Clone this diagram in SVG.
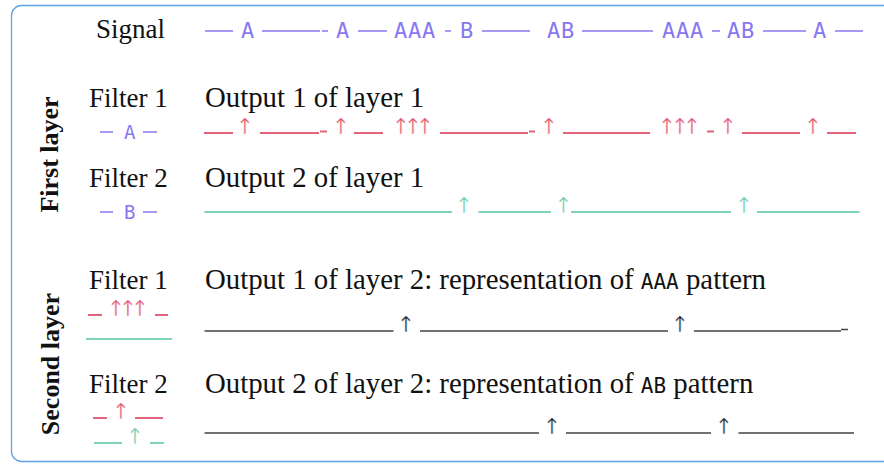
<svg xmlns="http://www.w3.org/2000/svg" width="884" height="467" viewBox="0 0 884 467">
<style>
.serif{font-family:"Liberation Serif","DejaVu Serif",serif;font-size:27px;fill:#111}
.out{font-size:28.8px}
.vert{font-family:"Liberation Serif","DejaVu Serif",serif;font-size:26px;font-weight:bold;fill:#111}
.mono{font-family:"DejaVu Sans Mono","Liberation Mono",monospace}
.sig{font-family:"DejaVu Sans Mono","Liberation Mono",monospace;font-size:22px;fill:#8878f0;letter-spacing:0.7px}
.small{font-family:"DejaVu Sans Mono","Liberation Mono",monospace;font-size:19px;fill:#8878f0}
.pl{stroke:#8878f0;stroke-width:1.6;fill:none}
.rl{stroke:#e3647a;stroke-width:1.8;fill:none}
.gl{stroke:#7fd3b6;stroke-width:1.8;fill:none}
.kl{stroke:#444;stroke-width:1.6;fill:none}
.arr{font-family:"DejaVu Sans",sans-serif;font-size:22px;text-anchor:middle;stroke:#fff;stroke-width:0.45px}
.ra{fill:#e0546c}
.ga{fill:#6fcaa9}
.ka{fill:#222}
</style>
<rect x="11.5" y="5.5" width="900" height="456" rx="10" fill="#fff" stroke="#5ea2e6" stroke-width="1.3"/>

<g id="signal">
<text class="serif" x="96" y="38">Signal</text>
<path class="pl" d="M205 31H233M262 31H320M322 31H328M358 31H387M445 31H451M482 31H530M582 31H653M712 31H720M763 31H806M835 31H863"/>
<text class="sig" x="241" y="37.5">A</text>
<text class="sig" x="336" y="37.5">A</text>
<text class="sig" x="394" y="37.5">AAA</text>
<text class="sig" x="460" y="37.5">B</text>
<text class="sig" x="547" y="37.5">AB</text>
<text class="sig" x="662" y="37.5">AAA</text>
<text class="sig" x="727" y="37.5">AB</text>
<text class="sig" x="813" y="37.5">A</text>
</g>

<g id="first-layer-label">
<text class="vert" transform="translate(58,154.5) rotate(-90)" text-anchor="middle">First layer</text>
</g>

<g id="layer1-filter1">
<text class="serif" x="89" y="107">Filter 1</text>
<path class="pl" d="M100 132H113M143 132H157"/>
<text class="small" x="124" y="138.5">A</text>
</g>

<g id="layer1-output1">
<text class="serif out" x="205" y="107">Output 1 of layer 1</text>
<path class="rl" d="M204 133H233M260 133H319M320 131.5H327M354 133H383M440 133H528M529 131.5H535M563 133H650M707 131.5H714M742 133H800M827 133H856"/>
<text class="arr ra" x="245 341 401 413 425 549 667 680 692 728 813" y="134">↑↑↑↑↑↑↑↑↑↑↑</text>
</g>

<g id="layer1-filter2">
<text class="serif" x="89" y="187">Filter 2</text>
<path class="pl" d="M100 212H113M143 212H157"/>
<text class="small" x="124" y="218.5">B</text>
</g>

<g id="layer1-output2">
<text class="serif out" x="205" y="187">Output 2 of layer 1</text>
<path class="gl" d="M204.5 212H452M478.5 212H551M571 212H731M757 212H859.5"/>
<text class="arr ga" x="464 563.5 744" y="213">↑↑↑</text>
</g>

<g id="second-layer-label">
<text class="vert" transform="translate(59,364) rotate(-90)" text-anchor="middle">Second layer</text>
</g>

<g id="layer2-filter1">
<text class="serif" x="89" y="289">Filter 1</text>
<path class="rl" d="M88 315H102M155 315H168"/>
<text class="arr ra" x="116 128 140" y="316">↑↑↑</text>
<path class="gl" d="M86 339H172"/>
</g>

<g id="layer2-output1">
<text class="serif out" x="205" y="289">Output 1 of layer 2: representation of <tspan class="mono" font-size="21">AAA</tspan> pattern</text>
<path class="kl" d="M204.5 331H393.5M420 331H668M694 331H841M841 329.5H848"/>
<text class="arr ka" x="406 680" y="332">↑↑</text>
</g>

<g id="layer2-filter2">
<text class="serif" x="89" y="393">Filter 2</text>
<path class="rl" d="M93 418H107M135 418H163"/>
<text class="arr ra" x="121" y="419">↑</text>
<path class="gl" d="M94 443H122M150 443H164"/>
<text class="arr ga" x="135" y="444">↑</text>
</g>

<g id="layer2-output2">
<text class="serif out" x="205" y="393">Output 2 of layer 2: representation of <tspan class="mono" font-size="21">AB</tspan> pattern</text>
<path class="kl" d="M204.5 433H539M566 433H711M738.5 433H854"/>
<text class="arr ka" x="552 724" y="434">↑↑</text>
</g>
</svg>
